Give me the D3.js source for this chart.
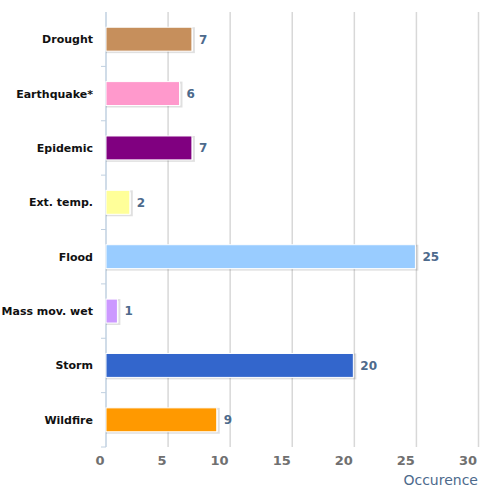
<!DOCTYPE html>
<html>
<head>
<meta charset="utf-8">
<script src="https://cdn.jsdelivr.net/npm/d3@7"></script>
<style>
  body { margin: 0; background: #fff; }
  text { font-family: "DejaVu Sans", sans-serif; }
</style>
</head>
<body>
<script>
// disaster types and how often each occurred
var categories = ["Drought", "Earthquake*", "Epidemic", "Ext. temp.", "Flood", "Mass mov. wet", "Storm", "Wildfire"];
var values = [7, 6, 7, 2, 25, 1, 20, 9];
var colors = ["#c68f5c", "#ff99cc", "#800080", "#ffff99", "#99ccff", "#cc99ff", "#3366cc", "#ff9900"];
var xTicks = [0, 5, 10, 15, 20, 25, 30];

var width = 485, height = 487;

var svg = d3.select("body")
    .append("svg")
    .attr("width", width)
    .attr("height", height);

var xScale = d3.scaleLinear()
    .domain([0, 30])
    .range([106, 478.5]);

var yScale = d3.scaleBand()
    .domain(categories)
    .range([12, 447])
    .paddingInner(0.56)
    .paddingOuter(0.28);

// vertical grid lines
svg.append("g")
    .selectAll("line")
    .data(xTicks.slice(1))
    .enter()
    .append("line")
    .attr("x1", function (d) { return xScale(d); })
    .attr("x2", function (d) { return xScale(d); })
    .attr("y1", 12)
    .attr("y2", 447)
    .attr("stroke", "#d8d8d8")
    .attr("stroke-width", 1.5);

// left axis line with ticks between categories
var boundaries = d3.range(categories.length + 1).map(function (i) { return 12 + i * (435 / categories.length); });

svg.append("line")
    .attr("x1", xScale(0))
    .attr("x2", xScale(0))
    .attr("y1", 12)
    .attr("y2", 447)
    .attr("stroke", "#c0d0e0")
    .attr("stroke-width", 1.5);

svg.append("g")
    .selectAll("line")
    .data(boundaries.slice(1))
    .enter()
    .append("line")
    .attr("x1", xScale(0) - 5)
    .attr("x2", xScale(0))
    .attr("y1", function (d) { return d; })
    .attr("y2", function (d) { return d; })
    .attr("stroke", "#c0d0e0")
    .attr("stroke-width", 1);

// bar shadows
svg.append("g")
    .selectAll("rect")
    .data(values)
    .enter()
    .append("rect")
    .attr("x", xScale(0) + 1)
    .attr("y", function (d, i) { return yScale(categories[i]) + 1; })
    .attr("width", function (d) { return xScale(d) - xScale(0); })
    .attr("height", yScale.bandwidth())
    .attr("fill", "none")
    .attr("stroke", "#000")
    .attr("stroke-opacity", 0.12)
    .attr("stroke-width", 2);

// bars
svg.append("g")
    .selectAll("rect")
    .data(values)
    .enter()
    .append("rect")
    .attr("x", xScale(0))
    .attr("y", function (d, i) { return yScale(categories[i]); })
    .attr("width", function (d) { return xScale(d) - xScale(0) - 1; })
    .attr("height", yScale.bandwidth())
    .attr("fill", function (d, i) { return colors[i]; })
    .attr("stroke", "#ffffff")
    .attr("stroke-width", 1);

// value labels
svg.append("g")
    .selectAll("text")
    .data(values)
    .enter()
    .append("text")
    .attr("x", function (d) { return xScale(d) + 6; })
    .attr("y", function (d, i) { return yScale(categories[i]) + yScale.bandwidth() / 2; })
    .attr("dy", "0.36em")
    .attr("fill", "#4d6a8c")
    .style("font-size", "12px")
    .style("font-weight", "bold")
    .text(function (d) { return d; });

// category labels
svg.append("g")
    .selectAll("text")
    .data(categories)
    .enter()
    .append("text")
    .attr("x", 93)
    .attr("y", function (d) { return yScale(d) + yScale.bandwidth() / 2; })
    .attr("dy", "0.36em")
    .attr("text-anchor", "end")
    .attr("fill", "#111")
    .style("font-size", "11px")
    .style("font-weight", "bold")
    .text(function (d) { return d; });

// x tick labels
svg.append("g")
    .selectAll("text")
    .data(xTicks)
    .enter()
    .append("text")
    .attr("x", function (d) { return xScale(d) - 1.5; })
    .attr("y", 465)
    .attr("text-anchor", "end")
    .attr("fill", "#707070")
    .style("font-size", "13px")
    .style("font-weight", "bold")
    .text(function (d) { return d; });

// axis title
svg.append("text")
    .attr("x", 478)
    .attr("y", 485)
    .attr("text-anchor", "end")
    .attr("fill", "#4d6a8c")
    .style("font-size", "14px")
    .text("Occurence");
</script>
</body>
</html>
